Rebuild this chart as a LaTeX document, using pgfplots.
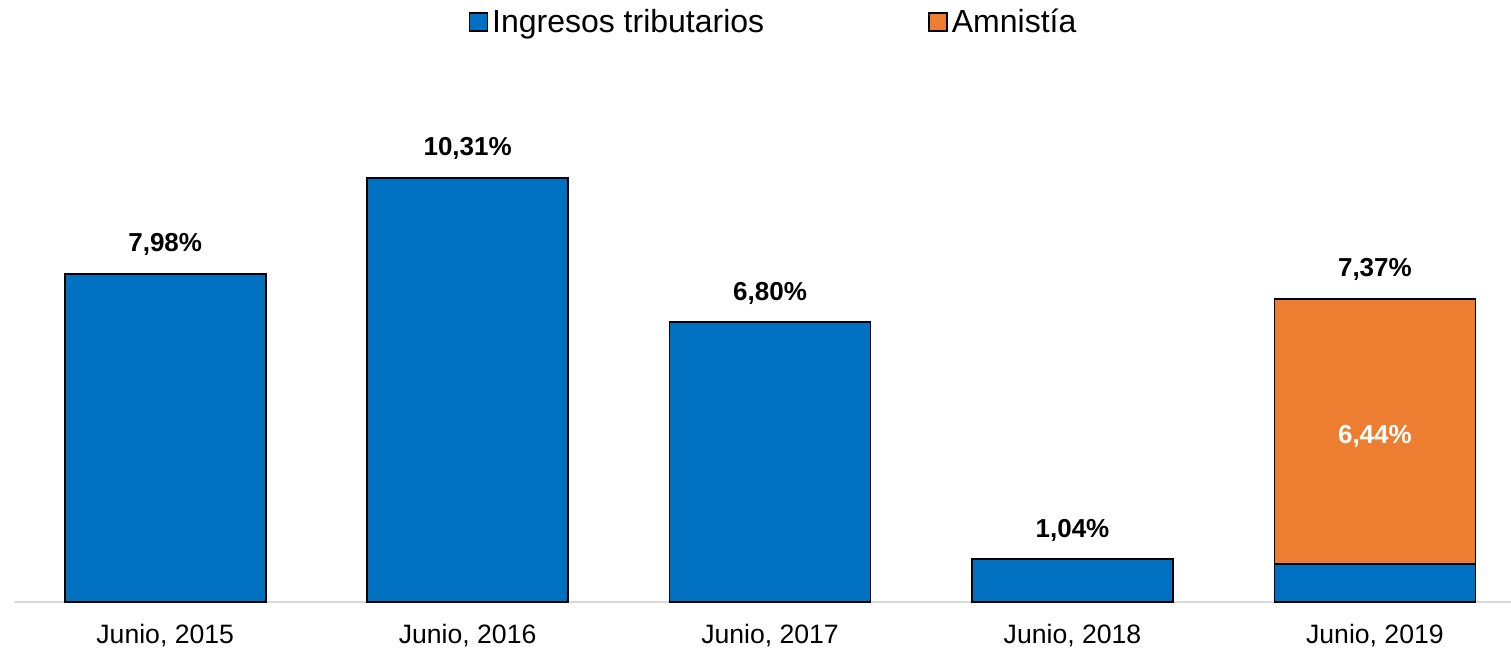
\documentclass[border=0pt]{standalone}
\usepackage{fontspec}
\setmainfont{Liberation Sans}
\usepackage{pgfplots}
\pgfplotsset{compat=1.18}
\definecolor{cblue}{HTML}{0070C0}
\definecolor{corange}{HTML}{ED7D31}
\tikzset{lbl/.style={font=\bfseries\fontsize{13}{16}\selectfont, text=black, anchor=south, yshift=5.5pt}}
\begin{document}
\begin{tikzpicture}
\begin{axis}[
  at={(7pt,24pt)}, anchor=south west,
  scale only axis, width=748.5pt, height=236.5pt,
  ybar stacked, bar width=100.5pt,
  xmin=-0.5, xmax=4.45, ymin=0, ymax=11.5,
  axis x line*=bottom, axis y line=none,
  x axis line style={draw=black!15, line width=1pt, -},
  xtick={0,1,2,3,4},
  xticklabels={{Junio, 2015},{Junio, 2016},{Junio, 2017},{Junio, 2018},{Junio, 2019}},
  major tick length=0pt,
  xticklabel style={font=\fontsize{13.3}{16}\selectfont, yshift=-7.5pt},
  clip=false,
  legend style={at={(0.508,1.226)}, anchor=center, draw=none, fill=none,
    font=\fontsize{16}{19}\selectfont,
    /tikz/every even column/.append style={column sep=80pt}},
  legend columns=2,
  legend image code/.code={\draw[#1, draw=black, line width=0.8pt] (0pt,-4.5pt) rectangle (9pt,4.5pt);},
]
\addplot[fill=cblue, draw=black, line width=0.9pt] coordinates {
  (0,7.98) (1,10.31) (2,6.80) (3,1.04) (4,0.93)
};
\addlegendentry{Ingresos tributarios}
\addplot[fill=corange, draw=black, line width=0.9pt] coordinates {
  (0,0) (1,0) (2,0) (3,0) (4,6.44)
};
\addlegendentry{Amnistía}
\node[lbl] at (axis cs:0,7.98) {7,98\%};
\node[lbl] at (axis cs:1,10.31) {10,31\%};
\node[lbl] at (axis cs:2,6.80) {6,80\%};
\node[lbl] at (axis cs:3,1.04) {1,04\%};
\node[lbl] at (axis cs:4,7.37) {7,37\%};
\coordinate (mid) at (axis cs:4,4.03);
\end{axis}
\node[font=\bfseries\fontsize{13}{16}\selectfont, text=white] at (mid) {6,44\%};
\pgfresetboundingbox
\useasboundingbox (0,0) rectangle (755.5pt,325pt);
\end{tikzpicture}
\end{document}
